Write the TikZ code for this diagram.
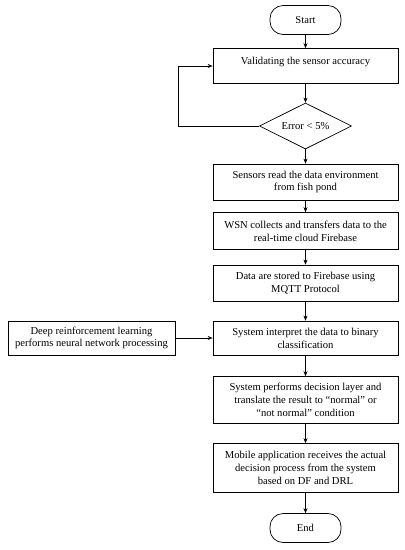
\documentclass[tikz,border=0pt]{standalone}
\usepackage{fontspec}
\setmainfont{Liberation Serif}
\usepackage{tikz}
\usetikzlibrary{arrows,arrows.meta,shapes,positioning}
\tikzstyle{arrow} = [line width=0.7pt,->,>={Stealth[length=5pt,width=4pt]}]
\tikzstyle{stepbox} = [draw, line width=0.7pt, rectangle, align=center, minimum width=185pt, inner sep=2pt]
\tikzstyle{terminal} = [draw, line width=0.7pt, rectangle, rounded corners=13pt, minimum width=71pt, minimum height=29pt]
\tikzstyle{check} = [draw, line width=0.7pt, diamond, aspect=2, minimum width=92pt, minimum height=46pt, inner sep=0pt]

\begin{document}
\begin{tikzpicture}[x=1pt, y=-1pt, font=\fontsize{10.6}{12.8}\selectfont]
\useasboundingbox (0,0) rectangle (405,550);

% Start and loop
\node[terminal] (start) at (305.5,20) {Start};
\node[stepbox, minimum height=35pt, text height=7pt, text depth=10pt] (valid) at (305.5,66) {Validating the sensor accuracy};
\node[check] (err) at (305.5,126) {Error < 5\%};

% Main steps
\node[stepbox, minimum height=36pt] (sense) at (305.5,182) {Sensors read the data environment\\from fish pond};
\node[stepbox, minimum height=37pt] (wsn) at (305.5,231) {WSN collects and transfers data to the\\real-time cloud Firebase};
\node[stepbox, minimum height=36pt] (store) at (305.5,283) {Data are stored to Firebase using\\MQTT Protocol};
\node[stepbox, minimum height=34pt] (interp) at (305.5,338) {System interpret the data to binary\\classification};
\node[stepbox, minimum height=47pt] (decide) at (305.5,400) {System performs decision layer and\\translate the result to “normal” or\\“not normal” condition};
\node[stepbox, minimum height=49pt] (mobile) at (305.5,468) {Mobile application receives the actual\\decision process from the system\\based on DF and DRL};
\node[terminal] (end) at (305.5,528) {End};

% Side input
\node[stepbox, minimum width=167pt, minimum height=34pt] (drl) at (91.5,338) {Deep reinforcement learning\\performs neural network processing};

% Arrows
\draw[arrow] (start) -- (valid);
\draw[arrow] (valid) -- (err);
\draw[arrow] (err.west) -- ++(-81,0) |- (valid.west);
\draw[arrow] (err) -- (sense);
\draw[arrow] (sense) -- (wsn);
\draw[arrow] (wsn) -- (store);
\draw[arrow] (store) -- (interp);
\draw[arrow] (drl) -- (interp);
\draw[arrow] (interp) -- (decide);
\draw[arrow] (decide) -- (mobile);
\draw[arrow] (mobile) -- (end);
\end{tikzpicture}
\end{document}
